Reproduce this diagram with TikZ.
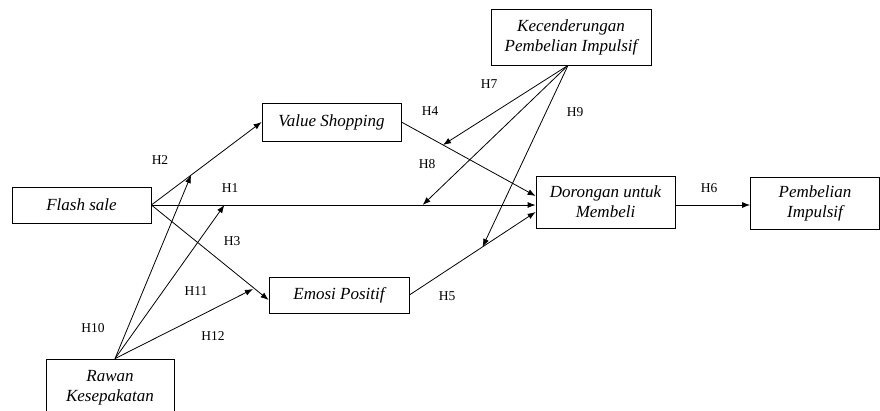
\documentclass[tikz,border=0pt]{standalone}
\usepackage{fontspec}
\setmainfont{Liberation Serif}[ItalicFont={Liberation Serif Italic}]
\usetikzlibrary{arrows.meta}
\usetikzlibrary{calc}

\tikzset{
  var/.style={draw, rectangle, line width=0.8pt, align=center,
    font=\fontsize{17}{20}\selectfont\itshape, inner sep=1pt},
  hyp/.style={font=\fontsize{13.5}{15}\selectfont, inner sep=0pt},
  link/.style={-{Latex[length=8pt,width=6pt]}, line width=0.8pt}
}

\begin{document}
\begin{tikzpicture}[x=1pt, y=-1pt]
\useasboundingbox (0,0) rectangle (880,410);

\node[var, minimum width=139pt, minimum height=36pt] (FS) at (81.5,205) {Flash sale};
\node[var, minimum width=139pt, minimum height=38pt] (VS) at (331.5,122) {Value Shopping};
\node[var, minimum width=140pt, minimum height=36pt] (EP) at (339,295) {Emosi Positif};
\node[var, minimum width=128pt, minimum height=58pt] (RK) at (110,388) {Rawan\\Kesepakatan};
\node[var, minimum width=160pt, minimum height=56pt] (KP) at (571,37) {Kecenderungan\\Pembelian Impulsif};
\node[var, minimum width=139pt, minimum height=52pt] (DM) at (605.5,202) {Dorongan untuk\\Membeli};
\node[var, minimum width=129pt, minimum height=52pt] (PI) at (815,203) {Pembelian\\Impulsif};

\coordinate (RKtop) at ($(RK.north)+(5,0)$);
\coordinate (KPbot) at ($(KP.south)+(-3,0)$);
\coordinate (H12end) at (253,289);

% direct paths
\draw[link] (FS.east) -- (VS.west);
\draw[link] (FS.east) -- (FS.east -| DM.west);
\draw[link] (FS.east) -- ($(EP.west)+(0,5)$);
\draw[link] (VS.east) -- ($(DM.west)+(0,-6)$);
\draw[link] (EP.east) -- ($(DM.west)+(0,10)$);
\draw[link] (FS.east -| DM.east) -- (FS.east -| PI.west);

% moderation paths
\draw[link] (RKtop) -- ($(FS.east)!0.36!(VS.west)$);
\draw[link] (RKtop) -- ($(FS.east)!0.19!(FS.east -| DM.west)$);
\draw[link] (RKtop) -- (H12end);
\draw[link] (KPbot) -- ($(VS.east)!0.31!($(DM.west)+(0,-6)$)$);
\draw[link] (KPbot) -- ($(FS.east)!0.706!(FS.east -| DM.west)$);
\draw[link] (KPbot) -- ($(EP.east)!0.58!($(DM.west)+(0,10)$)$);

% labels
\node[hyp] (h1) at (230,188) {H1};
\node[hyp] (h2) at (160,160) {H2};
\node[hyp] (h3) at (232,241) {H3};
\node[hyp] (h4) at (430,111) {H4};
\node[hyp] (h5) at (447,296) {H5};
\node[hyp] (h6) at (709,188) {H6};
\node[hyp] (h7) at (489,84) {H7};
\node[hyp] (h8) at (427,164) {H8};
\node[hyp] (h9) at (575,112) {H9};
\node[hyp] (h10) at (93,328) {H10};
\node[hyp] (h11) at (196,291) {H11};
\node[hyp] (h12) at (213,336) {H12};
\end{tikzpicture}
\end{document}
